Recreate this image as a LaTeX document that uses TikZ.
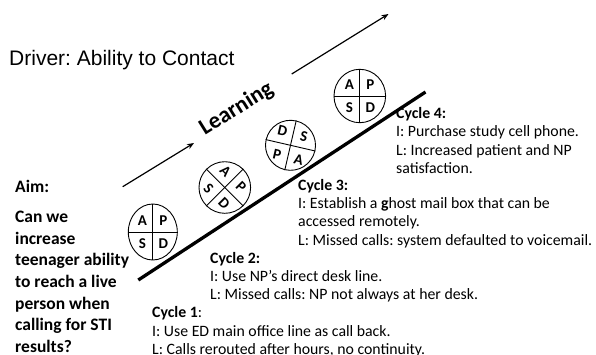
\documentclass[tikz,border=0pt]{standalone}
\usepackage{fontspec}
\setmainfont{Carlito}
\newfontfamily\titlefont{Liberation Sans}
\usetikzlibrary{arrows.meta,shapes.geometric}
\frenchspacing
\begin{document}
\begin{tikzpicture}[x=1pt,y=-1pt,
  flow/.style={line width=1.2pt,-{Stealth[length=7pt,width=5.5pt]}},
  mainline/.style={line width=3.3pt},
  pdsa/.style={draw,line width=0.9pt,inner sep=0pt},
  divider/.style={line width=0.9pt},
  lett/.style={font=\bfseries\fontsize{15}{15}\selectfont,inner sep=0pt},
  cyc/.style={anchor=north west,align=left,inner sep=0pt,font=\fontsize{15.8}{18.2}\selectfont},
  aimtext/.style={anchor=north west,align=left,inner sep=0pt,font=\bfseries\fontsize{17.5}{21.6}\selectfont}]
\useasboundingbox (0,0) rectangle (596,354);

% title
\node[anchor=base west,inner sep=0pt,font=\titlefont\fontsize{21}{25}\selectfont] (title) at (9,65) {Driver: Ability to Contact};

% learning arrows
\coordinate (a1) at (122.7,186.7);
\coordinate (a2) at (194,143);
\coordinate (u1) at (291.7,74);
\coordinate (u2) at (388.5,14);
\draw[flow] (a1) -- (a2);
\draw[flow] (u1) -- (u2);
\node[rotate=32,inner sep=0pt,font=\bfseries\fontsize{23}{26}\selectfont] (learn) at (236.5,109) {Learning};

% main line
\coordinate (m1) at (138.3,280);
\coordinate (m2) at (425.5,92);
\draw[mainline] (m1) -- (m2);

% cycle 1 circle
\node[pdsa,ellipse,minimum width=49pt,minimum height=56pt] (c1) at (152.8,232) {};
\draw[divider] (c1.north) -- (c1.south);
\draw[divider] (c1.west) -- (c1.east);
\node[lett] (c1a) at (142.3,220.5) {A};
\node[lett] (c1p) at (163.3,220.5) {P};
\node[lett] (c1s) at (142.3,244) {S};
\node[lett] (c1d) at (163.3,244) {D};

% cycle 2 circle
\begin{scope}[shift={(224.8,187.5)},rotate=-45,transform shape]
\node[pdsa,circle,minimum size=51.6pt] (c2) at (0,0) {};
\draw[divider] (c2.north) -- (c2.south);
\draw[divider] (c2.west) -- (c2.east);
\node[lett] (c2a) at (-11,-12) {A};
\node[lett] (c2p) at (11,-12) {P};
\node[lett] (c2s) at (-11,12) {S};
\node[lett] (c2d) at (11,12) {D};
\end{scope}

% cycle 3 circle
\begin{scope}[shift={(290.5,145.3)},rotate=-13,transform shape]
\node[pdsa,circle,minimum size=50pt] (c3) at (0,0) {};
\draw[divider] (c3.north) -- (c3.south);
\draw[divider] (c3.west) -- (c3.east);
\node[lett] (c3d) at (-11,-12) {D};
\node[lett] (c3s) at (11,-12) {S};
\node[lett] (c3p) at (-11,12) {P};
\node[lett] (c3a) at (11,12) {A};
\end{scope}

% cycle 4 circle
\node[pdsa,ellipse,minimum width=51.6pt,minimum height=53.4pt] (c4) at (359.8,96) {};
\draw[divider] (c4.north) -- (c4.south);
\draw[divider] (c4.west) -- (c4.east);
\node[lett] (c4a) at (349.3,84.5) {A};
\node[lett] (c4p) at (370.3,84.5) {P};
\node[lett] (c4s) at (349.3,108) {S};
\node[lett] (c4d) at (370.3,108) {D};

% aim
\node[aimtext] (aim) at (15,180.5) {Aim:};
\node[aimtext] (aimq) at (15,211) {Can we\\increase\\teenager ability\\to reach a live\\person when\\calling for STI\\results?};

% cycle texts
\node[cyc] (t4) at (396,107.5) {\textbf{Cycle 4:}\\I: Purchase study cell phone.\\L: Increased patient and NP\\satisfaction.};
\node[cyc] (t3) at (298,179.3) {\textbf{Cycle 3:}\\I: Establish a \textbf{g}host mail box that can be\\accessed remotely.\\L: Missed calls: system defaulted to voicemail.};
\node[cyc] (t2) at (210,252.1) {\textbf{Cycle 2:}\\I: Use NP’s direct desk line.\\L: Missed calls: NP not always at her desk.};
\node[cyc] (t1) at (152,306.7) {\textbf{Cycle 1}:\\I: Use ED main office line as call back.\\L: Calls rerouted after hours, no continuity.};
\end{tikzpicture}
\end{document}
